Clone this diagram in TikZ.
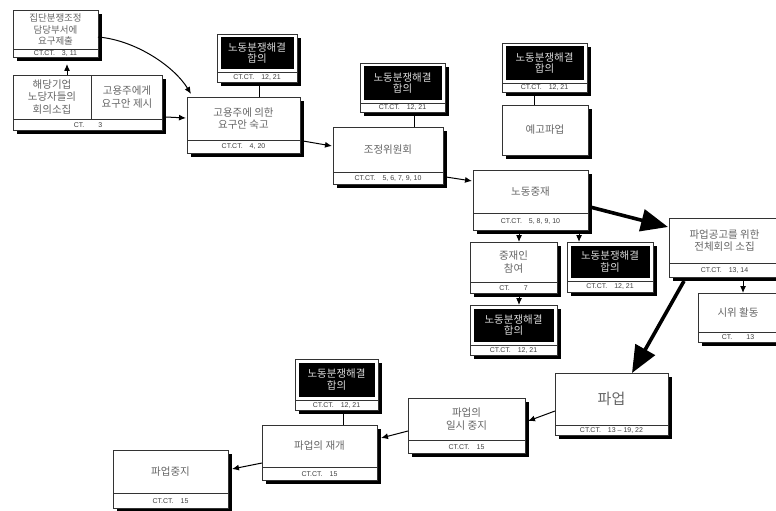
\documentclass[tikz,border=0pt]{standalone}
\usepackage{fontspec}
\newfontfamily\kr{Noto Sans CJK KR}
\setsansfont{Liberation Sans}
\usetikzlibrary{calc,arrows.meta}
\newcommand\pbox[8]{%
  \fill (#2+4,#3+4) rectangle (#4+4,#5+4);
  \node[boxnode,minimum width={#4-#2},minimum height={#5-#3}] (#1) at (#2,#3) {};
  \draw[frame] (#2,#6) -- (#4,#6);
  \node[txt] (#1-t) at ({(#2+#4)/2},{(#3+#6)/2}) {#7};
  \node[cttxt] (#1-c) at ({(#2+#4)/2},{(#6+#5)/2+0.5}) {#8};
}
\newcommand\bbox[6]{%
  \fill (#2+4,#3+4) rectangle (#4+4,#5+4);
  \node[boxnode,minimum width={#4-#2},minimum height={#5-#3}] (#1) at (#2,#3) {};
  \draw[frame] (#2,#6) -- (#4,#6);
  \fill (#2+3.5,#3+3.5) rectangle (#4-3.5,#6-3);
  \node[wtxt] (#1-t) at ({(#2+#4)/2},{(#3+#6)/2}) {노동분쟁해결\\합의};
  \node[cttxt] (#1-c) at ({(#2+#4)/2},{(#6+#5)/2+0.5}) {CT.CT.\quad 12, 21};
}
\begin{document}
\begin{tikzpicture}[x=1pt,y=-1pt,
  frame/.style={draw=black!80,line width=0.9pt},
  boxnode/.style={frame,fill=white,inner sep=0,anchor=north west},
  txt/.style={font=\kr\fontsize{10.5}{12.5}\selectfont,text=black!60,align=center,inner sep=0},
  smalltxt/.style={font=\kr\fontsize{9.5}{11.5}\selectfont},
  cttxt/.style={font=\sffamily\fontsize{7}{8}\selectfont,text=black!75,inner sep=0},
  wtxt/.style={font=\kr\fontsize{10.5}{11.5}\selectfont,text=black!15,align=center,inner sep=0},
  arr/.style={-{Latex[length=7pt,width=6pt]},line width=1pt},
  big/.style={-{Triangle[length=27pt,width=22pt]},line width=3.6pt},
  link/.style={line width=1pt}]
\useasboundingbox (0,0) rectangle (776,511);

% boxes
\fill (17,14) rectangle (102,61);
\node[boxnode,minimum width=85,minimum height=47] (n1) at (13,10) {};
\draw[frame] (13,49) -- (98,49);
\node[txt,smalltxt] (n1-t) at (55.5,29.5) {집단분쟁조정\\담당부서에\\요구제출};
\node[cttxt] (n1-c) at (55.5,53.5) {CT.CT.\quad 3, 11};

\fill (17,79) rectangle (166,134);
\node[boxnode,minimum width=149,minimum height=55] (n2) at (13,75) {};
\draw[frame] (13,119) -- (162,119);
\draw[frame] (91,75) -- (91,119);
\node[txt] (n2-a) at (52,97) {해당기업\\노당자들의\\회의소집};
\node[txt] (n2-b) at (127,97) {고용주에게\\요구안 제시};
\node[cttxt] (n2-c) at (88,125.5) {CT.\qquad 3};

\pbox{n3}{187}{97}{300}{153}{140}{고용주에 의한\\요구안 숙고}{CT.CT.\quad 4, 20}
\bbox{b3}{217}{34}{297}{82}{72}
\pbox{n4}{333}{127}{443}{184}{172}{조정위원회}{CT.CT.\quad 5,\ 6,\ 7,\ 9,\ 10}
\bbox{b4}{360}{63}{445}{112}{103}
\fill (506,109) rectangle (592,159);
\node[boxnode,minimum width=86,minimum height=50] (n5) at (502,105) {};
\node[txt] (n5-t) at (545,130) {예고파업};
\bbox{b5}{502}{43}{587}{92}{83}
\pbox{n6}{473}{170}{588}{230}{213}{노동중재}{CT.CT.\quad 5,\ 8,\ 9,\ 10}
\pbox{n7}{470}{242}{557}{293}{282}{중재인\\참여}{CT.\qquad 7}
\bbox{b7}{470}{305}{557}{355}{345}
\bbox{b6}{567}{242}{653}{292}{281}
\pbox{n8}{669}{218}{780}{277}{263}{파업공고를 위한\\전체회의 소집}{CT.CT.\quad 13, 14}
\pbox{n9}{698}{293}{778}{342}{332}{시위 활동}{CT.\qquad 13}
\pbox{n10}{555}{373}{668}{435}{425}{\fontsize{15}{16}\selectfont 파업}{CT.CT.\quad 13 – 19, 22}
\pbox{n11}{408}{398}{525}{453}{440}{파업의\\일시 중지}{CT.CT.\quad 15}
\pbox{n12}{262}{425}{377}{480}{467}{파업의 재개}{CT.CT.\quad 15}
\bbox{b12}{295}{359}{378}{410}{400}
\pbox{n13}{113}{450}{228}{508}{493}{파업중지}{CT.CT.\quad 15}

% connectors
\draw[arr] ($(n2.north west)+(54,0)$) -- ($(n1.north west)+(54,54)$);
\draw[arr] ($(n1.north west)+(85,27)$) .. controls +(37,3) and +(-17,-28) .. ($(n3.north west)+(4,-3)$);
\draw[arr] ($(n2.north west)+(153,42)$) -- ($(n3.north west)+(-1,21)$);
\draw[link] ($(b3.south west)+(42,0)$) -- ($(n3.north west)+(72,0)$);
\draw[arr] ($(n3.north west)+(116,44)$) -- ($(n4.north west)+(-1,19)$);
\draw[link] ($(b4.south west)+(54,0)$) -- ($(n4.north west)+(81,0)$);
\draw[link] ($(b5.south west)+(32,0)$) -- ($(n5.north west)+(32,0)$);
\draw[arr] ($(n4.north west)+(113,50)$) -- ($(n6.north west)+(-1,11)$);
\draw[arr] ($(n6.north west)+(46,64)$) -- ($(n7.north west)+(49,0)$);
\draw[arr] ($(n7.north west)+(49,55)$) -- ($(b7.north west)+(49,0)$);
\draw[arr] ($(n6.north west)+(106,64)$) -- ($(b6.north west)+(12,0)$);
\draw[big] ($(n6.north west)+(117,37)$) -- ($(n8.north west)+(-1,9)$);
\draw[arr] ($(n8.north west)+(74,63)$) -- ($(n9.north west)+(45,0)$);
\draw[big] ($(n8.north west)+(15,63)$) -- ($(n10.north west)+(77,0)$);
\draw[arr] ($(n10.north west)+(0,38)$) -- ($(n11.north west)+(120,23)$);
\draw[arr] ($(n11.north west)+(0,33)$) -- ($(n12.north west)+(119,13)$);
\draw[link] ($(b12.south west)+(48,0)$) -- ($(n12.north west)+(81,0)$);
\draw[arr] ($(n12.north west)+(0,38)$) -- ($(n13.north west)+(119,19)$);
\end{tikzpicture}
\end{document}
